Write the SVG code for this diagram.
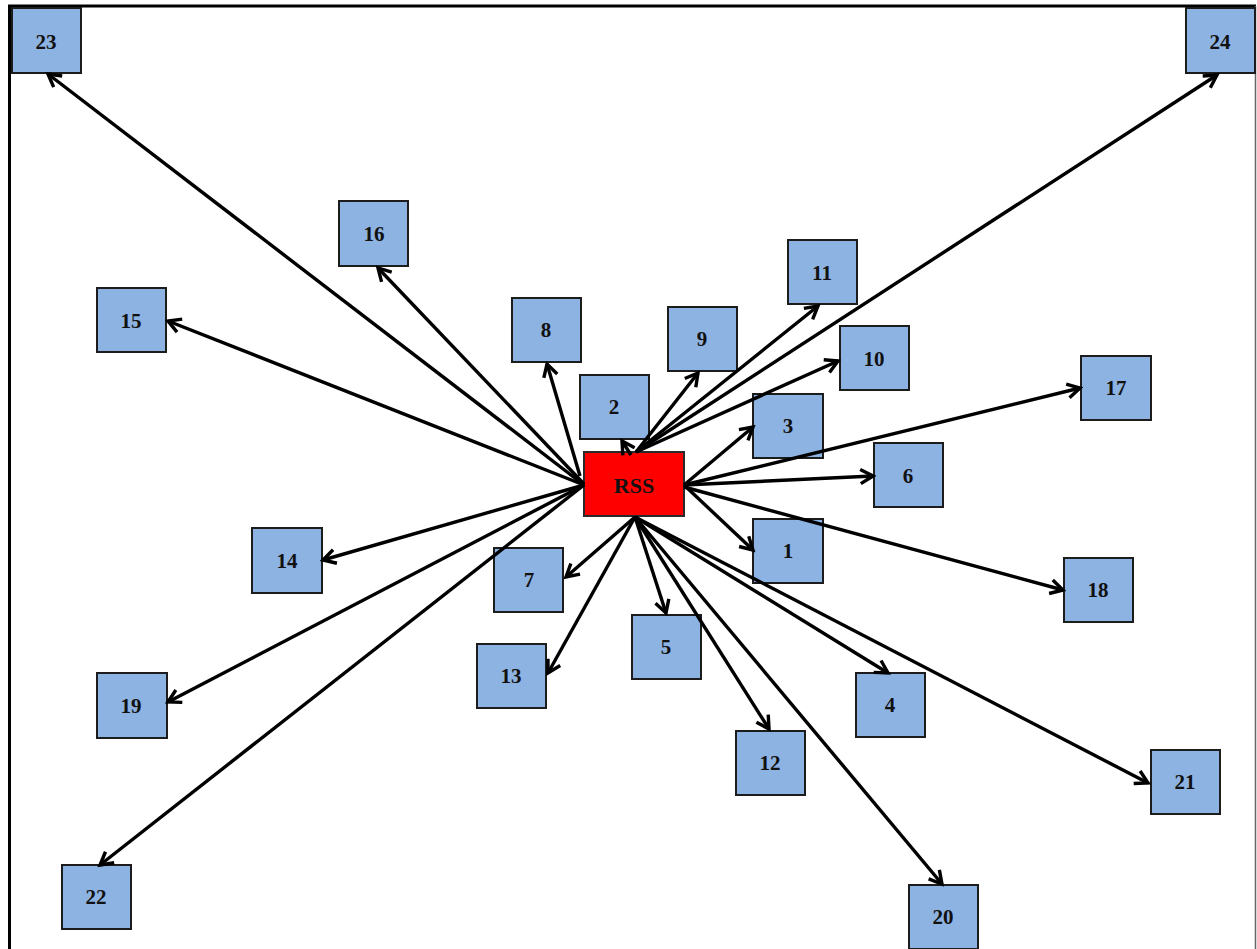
<svg xmlns="http://www.w3.org/2000/svg" width="1257" height="949" viewBox="0 0 1257 949">
  <style>
    .node rect { fill: #8DB3E2; stroke: #1c1c1c; stroke-width: 2; }
    .hub rect { fill: #FF0000; stroke: #2a2a2a; stroke-width: 2; }
    text { font-family: "Liberation Serif", "Times New Roman", serif; font-weight: bold; font-size: 21px; fill: #111; text-anchor: middle; dominant-baseline: central; }
    .edges line { stroke: #000; stroke-width: 3.4; marker-end: url(#arrow); }
  </style>
  <defs>
    <marker id="arrow" markerUnits="userSpaceOnUse" markerWidth="18" markerHeight="18" viewBox="0 0 18 18" refX="15" refY="9" orient="auto">
      <path d="M2.5,2 L15,9 L2.5,16" fill="none" stroke="#000" stroke-width="3.4" stroke-linejoin="miter"/>
    </marker>
  </defs>

  <rect x="0" y="0" width="1257" height="949" fill="#fff"/>
  <!-- frame -->
  <line x1="8" y1="6" x2="1256" y2="6" stroke="#000" stroke-width="3"/>
  <line x1="9.5" y1="5" x2="9.5" y2="949" stroke="#000" stroke-width="3"/>
  <line x1="1255.5" y1="6" x2="1255.5" y2="949" stroke="#666" stroke-width="1.5"/>

  <!-- nodes -->
  <g id="node-23" class="node"><rect x="12" y="8" width="69" height="65"/><text x="46" y="42">23</text></g>
  <g id="node-24" class="node"><rect x="1186" y="8" width="69" height="65"/><text x="1220" y="42">24</text></g>
  <g id="node-16" class="node"><rect x="339" y="201" width="69" height="65"/><text x="374" y="234">16</text></g>
  <g id="node-15" class="node"><rect x="97" y="288" width="69" height="64"/><text x="131" y="321">15</text></g>
  <g id="node-8" class="node"><rect x="512" y="298" width="69" height="64"/><text x="546" y="330">8</text></g>
  <g id="node-9" class="node"><rect x="668" y="307" width="69" height="64"/><text x="702" y="339">9</text></g>
  <g id="node-11" class="node"><rect x="788" y="240" width="69" height="64"/><text x="822" y="273">11</text></g>
  <g id="node-10" class="node"><rect x="840" y="326" width="69" height="64"/><text x="874" y="359">10</text></g>
  <g id="node-17" class="node"><rect x="1081" y="356" width="70" height="64"/><text x="1116" y="388">17</text></g>
  <g id="node-2" class="node"><rect x="580" y="375" width="69" height="64"/><text x="614" y="407">2</text></g>
  <g id="node-3" class="node"><rect x="753" y="394" width="70" height="64"/><text x="788" y="426">3</text></g>
  <g id="node-6" class="node"><rect x="874" y="443" width="69" height="64"/><text x="908" y="476">6</text></g>
  <g id="node-1" class="node"><rect x="753" y="519" width="70" height="64"/><text x="788" y="551">1</text></g>
  <g id="node-14" class="node"><rect x="252" y="528" width="70" height="65"/><text x="287" y="561">14</text></g>
  <g id="node-7" class="node"><rect x="494" y="548" width="69" height="64"/><text x="529" y="580">7</text></g>
  <g id="node-18" class="node"><rect x="1064" y="558" width="69" height="64"/><text x="1098" y="590">18</text></g>
  <g id="node-5" class="node"><rect x="632" y="615" width="69" height="64"/><text x="666" y="647">5</text></g>
  <g id="node-13" class="node"><rect x="477" y="644" width="69" height="64"/><text x="511" y="676">13</text></g>
  <g id="node-4" class="node"><rect x="856" y="673" width="69" height="64"/><text x="890" y="705">4</text></g>
  <g id="node-19" class="node"><rect x="97" y="673" width="70" height="65"/><text x="131" y="706">19</text></g>
  <g id="node-12" class="node"><rect x="736" y="731" width="69" height="64"/><text x="770" y="763">12</text></g>
  <g id="node-21" class="node"><rect x="1151" y="750" width="69" height="64"/><text x="1185" y="782">21</text></g>
  <g id="node-22" class="node"><rect x="62" y="865" width="69" height="64"/><text x="96" y="897">22</text></g>
  <g id="node-20" class="node"><rect x="909" y="885" width="69" height="64"/><text x="943" y="917">20</text></g>
  <g id="node-RSS" class="hub"><rect x="584" y="452" width="100" height="64"/><text x="634" y="485" style="font-size:22px">RSS</text></g>

  <!-- connectors from RSS -->
  <g id="connectors" class="edges">
    <!-- left side -->
    <line x1="584" y1="485" x2="48" y2="74"/>
    <line x1="584" y1="484" x2="378" y2="268"/>
    <line x1="584" y1="485" x2="168" y2="321"/>
    <line x1="584" y1="485" x2="323" y2="560"/>
    <line x1="584" y1="485" x2="168" y2="702"/>
    <line x1="584" y1="485" x2="100" y2="865"/>
    <line x1="580" y1="476" x2="547" y2="364"/>
    <!-- top -->
    <line x1="631" y1="455" x2="622" y2="441"/>
    <line x1="636" y1="452" x2="698" y2="373"/>
    <line x1="636" y1="452" x2="818" y2="306"/>
    <line x1="636" y1="452" x2="1217" y2="75"/>
    <line x1="636" y1="452" x2="838" y2="361"/>
    <!-- right side -->
    <line x1="684" y1="485" x2="753" y2="427"/>
    <line x1="684" y1="485" x2="873" y2="476"/>
    <line x1="684" y1="485" x2="1080" y2="388"/>
    <line x1="684" y1="485" x2="753" y2="550"/>
    <line x1="684" y1="487" x2="1063" y2="590"/>
    <!-- bottom -->
    <line x1="635" y1="517" x2="566" y2="577"/>
    <line x1="635" y1="517" x2="548" y2="673"/>
    <line x1="635" y1="517" x2="666" y2="613"/>
    <line x1="635" y1="517" x2="769" y2="729"/>
    <line x1="635" y1="517" x2="888" y2="673"/>
    <line x1="635" y1="517" x2="1148" y2="783"/>
    <line x1="635" y1="517" x2="942" y2="884"/>
  </g>
</svg>
